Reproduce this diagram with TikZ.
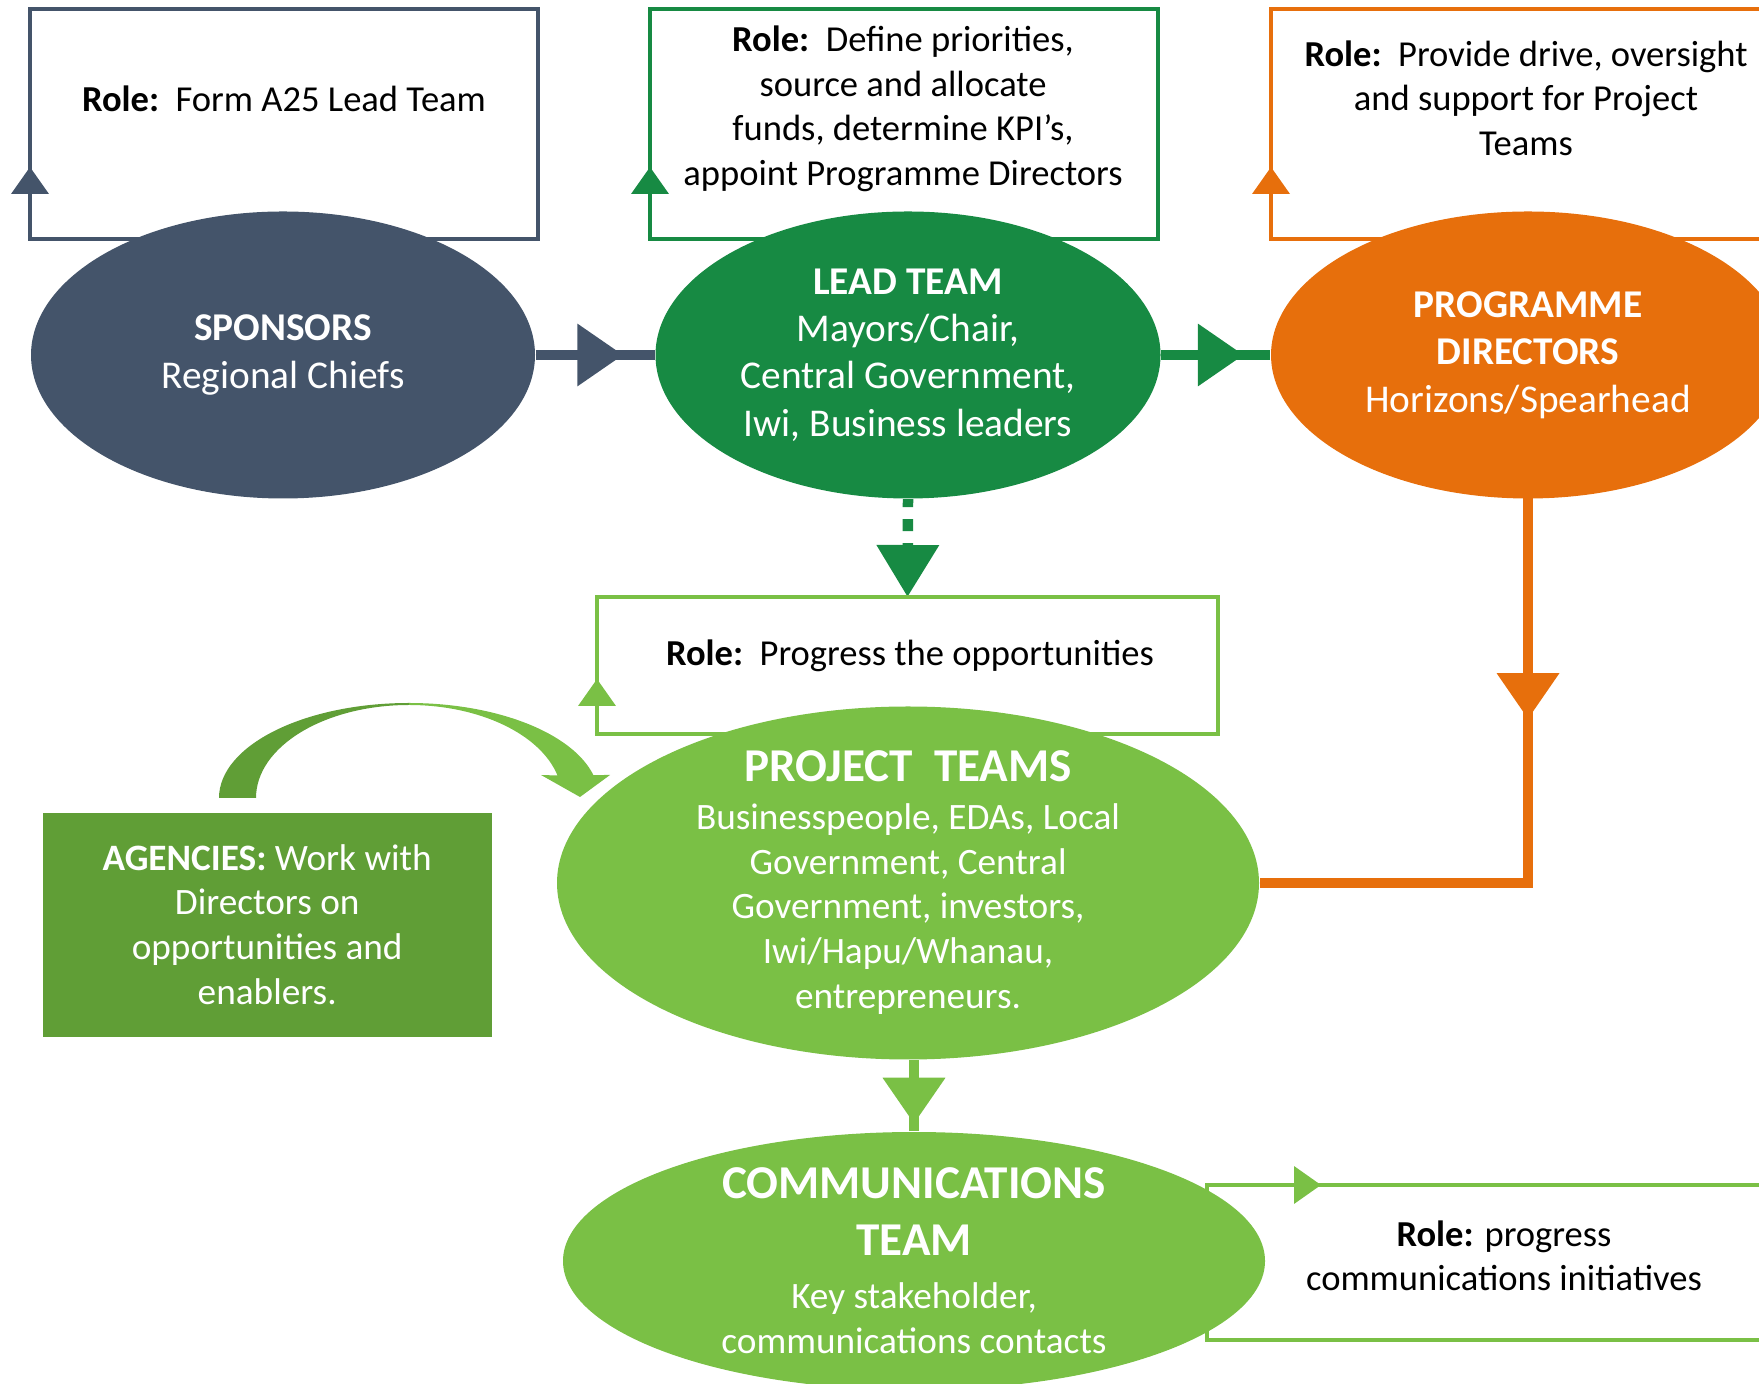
\documentclass[tikz,border=0pt]{standalone}
\usepackage{fontspec}
\setmainfont{Carlito}
\usepackage{xcolor}
\usepackage{tikz}
\usetikzlibrary{shapes.geometric, arrows.meta, backgrounds, decorations.markings}
\definecolor{spNavy}{RGB}{68, 84, 106}
\definecolor{ltGreen}{RGB}{23, 138, 67}
\definecolor{pdOrange}{RGB}{231, 111, 12}
\definecolor{ptGreen}{RGB}{122, 192, 69}
\definecolor{agGreen}{RGB}{96, 158, 54}
\newcommand{\crewhead}{\fontsize{13.4}{16}\selectfont\bfseries}
\tikzset{
    base/.style={
        align=center,
        inner sep=0pt
    },
    team/.style={
        base,
        ellipse,
        text=white,
        minimum height=2.87cm,
        font=\fontsize{11.2}{13.5}\selectfont
    },
    crew/.style={
        base,
        ellipse,
        inner ysep=-0.3cm,
        fill=ptGreen,
        text=white,
        minimum width=7.02cm,
        font=\fontsize{10.6}{12.8}\selectfont
    },
    rolebox/.style={
        rectangle,
        line width=1.1pt,
        anchor=north west,
        inner sep=0pt,
        outer sep=0pt
    },
    roletext/.style={
        base,
        font=\fontsize{10.4}{12.66}\selectfont
    },
    rolemark/.style={
        line width=1.1pt,
        -{Triangle[length=0.27cm, width=0.37cm]}
    },
    flow/.style={
        line width=0.105cm
    },
    midarrow/.style={
        postaction={decorate},
        decoration={markings,
            mark=at position 0.5 with {\arrow[xshift=0.28cm]{Triangle[length=0.46cm, width=0.6cm]}}}
    }
}

\begin{document}
\begin{tikzpicture}
    % Page frame
    \path[use as bounding box, clip] (0,0) rectangle (17.59,13.83);

    % Role boxes, drawn first so the ellipses cover their lower edges
    \node[rolebox, draw=spNavy, minimum width=5.08cm, minimum height=2.30cm] (sprole) at (0.30,13.74) {};
    \node[rolebox, draw=ltGreen, minimum width=5.08cm, minimum height=2.30cm] (ltrole) at (6.50,13.74) {};
    \node[rolebox, draw=pdOrange, minimum width=5.60cm, minimum height=2.30cm] (pdrole) at (12.71,13.74) {};
    \node[rolebox, draw=ptGreen, minimum width=6.21cm, minimum height=1.37cm] (ptrole) at (5.97,7.86) {};
    \node[rolebox, draw=ptGreen, minimum width=5.80cm, minimum height=1.55cm] (ctrole) at (12.07,1.98) {};

    % Arrow heads on the box outlines
    \draw[rolemark, spNavy] (sprole.south west) -- ++(0,0.72);
    \draw[rolemark, ltGreen] (ltrole.south west) -- ++(0,0.72);
    \draw[rolemark, pdOrange] (pdrole.south west) -- ++(0,0.72);
    \draw[rolemark, ptGreen] (ptrole.south west) -- ++(0,0.55);
    \draw[rolemark, ptGreen] (ctrole.north west) -- ++(1.14,0);

    % Role texts
    \node[roletext] (sptext) at (2.84,12.84) {\textbf{Role:}\ \ Form A25 Lead Team};
    \node[roletext] (lttext) at (9.03,12.74) {\textbf{Role:}\ \ Define priorities,\\source and allocate\\funds, determine KPI’s,\\appoint Programme Directors};
    \node[roletext] (pdtext) at (15.26,12.85) {\textbf{Role:}\ \ Provide drive, oversight\\and support for Project\\Teams};
    \node[roletext] (pttext) at (9.10,7.27) {\textbf{Role:}\ \ Progress the opportunities};
    \node[roletext] (cttext) at (15.04,1.27) {\textbf{Role:} progress\\communications initiatives};

    % Top row
    \node[team, fill=spNavy, minimum width=5.04cm] (sponsors) at (2.83,10.28) {\textbf{SPONSORS}\\Regional Chiefs};
    \node[team, fill=ltGreen, minimum width=5.05cm] (lead) at (9.08,10.28) {\textbf{LEAD TEAM}\\Mayors/Chair,\\Central Government,\\Iwi, Business leaders};
    \node[team, fill=pdOrange, minimum width=5.14cm] (prog) at (15.28,10.28) {\textbf{PROGRAMME}\\\textbf{DIRECTORS}\\Horizons/Spearhead};

    % Lower teams
    \node[crew, minimum height=3.53cm] (proj) at (9.08,5.00) {{\crewhead PROJECT\ \ TEAMS}\\[0.6pt]Businesspeople, EDAs, Local\\Government, Central\\Government, investors,\\Iwi/Hapu/Whanau,\\entrepreneurs.};
    \node[crew, minimum height=2.58cm] (comm) at (9.14,1.22) {{\crewhead COMMUNICATIONS}\\[3.4pt]{\crewhead TEAM}\\[2.3pt]Key stakeholder,\\communications contacts};

    % Agencies
    \node[base, fill=agGreen, text=white, minimum width=4.49cm, minimum height=2.24cm, anchor=north west,
        font=\fontsize{10.6}{12.8}\selectfont] (agencies) at (0.42,5.71)
        {\textbf{AGENCIES:} Work with\\Directors on\\opportunities and\\enablers.};

    % Curved arrow from the agencies to the project teams
    \fill[agGreen] (2.19,5.85) arc[start angle=180, end angle=90, x radius=1.9, y radius=0.95]
        -- (4.09,6.78) arc[start angle=90, end angle=180, x radius=1.53, y radius=0.93] -- cycle;
    \fill[ptGreen] (4.09,6.80) arc[start angle=90, end angle=14, x radius=1.9, y radius=0.95]
        -- (6.10,6.08) -- (5.80,5.86) -- (5.41,6.08) -- (5.575,6.075)
        arc[start angle=14, end angle=90, x radius=1.53, y radius=0.93] -- cycle;

    % Connectors
    \begin{scope}[on background layer]
        \draw[flow, spNavy, midarrow] (sponsors) -- (lead);
        \draw[flow, ltGreen, midarrow] (lead) -- (prog);
        \draw[flow, ltGreen, dash pattern=on 0.12cm off 0.12cm, dash phase=0.04cm,
            -{Triangle[length=0.52cm, width=0.6cm]}] (lead.south) -- (ptrole.north);
        \coordinate (pdcorner) at (prog.south |- proj.east);
        \draw[flow, pdOrange, line cap=rect, midarrow] (prog.south) -- (pdcorner);
        \draw[flow, pdOrange] (pdcorner) -- (proj.east);
        \draw[flow, ptGreen, midarrow] (comm.north |- proj.south) -- (comm.north);
    \end{scope}
\end{tikzpicture}
\end{document}
